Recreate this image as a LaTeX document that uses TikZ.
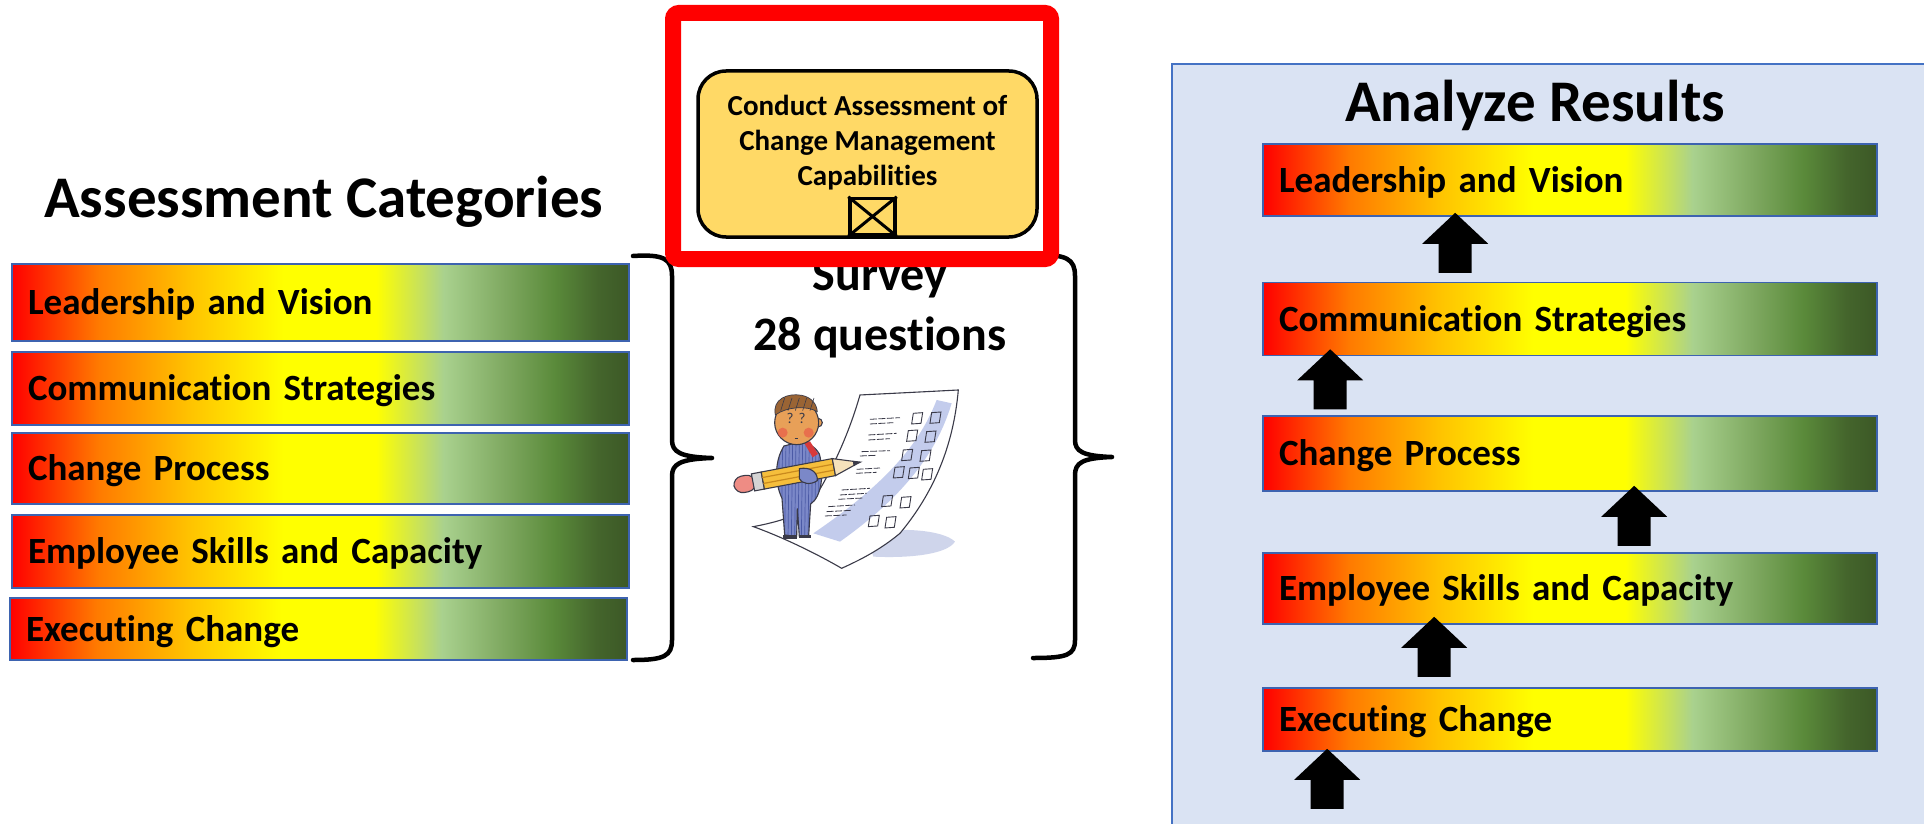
\documentclass[tikz,border=0pt]{standalone}
\usepackage{fontspec}
\setmainfont{Carlito}[Ligatures={TeX,NoCommon}]
\usetikzlibrary{calc}

% gradient colours for the category bars
\definecolor{gRed}{HTML}{FF0000}
\definecolor{gOrange}{HTML}{FF7A00}
\definecolor{gAmber}{HTML}{FFC400}
\definecolor{gYellow}{HTML}{FFFF00}
\definecolor{gLight}{HTML}{A9D18E}
\definecolor{gMid}{HTML}{7EA860}
\definecolor{gGreen}{HTML}{5A8A3A}
\definecolor{gDeep}{HTML}{44652C}
\definecolor{gDark}{HTML}{3C5826}
\definecolor{barline}{HTML}{3D63B0}
\definecolor{panelfill}{HTML}{DAE3F3}
\definecolor{panelline}{HTML}{4472C4}
\definecolor{taskfill}{HTML}{FFD966}
% clip-art colours
\definecolor{inkgray}{HTML}{3A3A48}
\definecolor{washblue}{HTML}{B0BCE6}
\definecolor{shadowblue}{HTML}{A9B4DC}
\definecolor{suitblue}{HTML}{7B88C8}
\definecolor{suitstripe}{HTML}{4B5AA6}
\definecolor{skin}{HTML}{E8A058}
\definecolor{cheek}{HTML}{E8604A}
\definecolor{hairbrown}{HTML}{9A6434}
\definecolor{tiered}{HTML}{D83A3A}
\definecolor{pencilyellow}{HTML}{F5BE3C}
\definecolor{pencilstripe}{HTML}{C98A1E}
\definecolor{eraserpink}{HTML}{EE8C84}
\definecolor{ferrule}{HTML}{D4D4D4}
\definecolor{wood}{HTML}{F6E2BC}

\pgfdeclarehorizontalshading{ragbar}{100bp}{color(0bp)=(gRed); color(25bp)=(gRed);
  color(32bp)=(gOrange); color(39.5bp)=(gAmber); color(47bp)=(gYellow);
  color(54.5bp)=(gYellow); color(60bp)=(gLight); color(65bp)=(gMid);
  color(69bp)=(gGreen); color(72.5bp)=(gDeep); color(75bp)=(gDark); color(100bp)=(gDark)}

\newcommand\barfont{\fontsize{37}{44}\selectfont\bfseries}
\newcommand\titlefont{\fontsize{59}{70}\selectfont\bfseries}

\tikzset{
  bar/.style={draw=barline, line width=1.6pt, shading=ragbar, inner xsep=16pt,
    inner ysep=0pt, align=left, text height=24pt, text depth=0pt, font=\barfont},
  heading/.style={inner sep=0pt, font=\titlefont},
  brace/.style={draw=black, line width=4.5pt, line cap=round, line join=round},
  task/.style={draw=black, line width=3.5pt, fill=taskfill, rounded corners=28pt},
  ink/.style={draw=inkgray, line width=1.1pt},
  pics/uparrow/.style={code={
    \fill[black] (0,0) -- (33,31) -- (16.5,31) -- (16.5,60) -- (-16.5,60)
      -- (-16.5,31) -- (-33,31) -- cycle;}}
}

\begin{document}
\begin{tikzpicture}[x=1pt, y=-1pt]
\useasboundingbox (0,0) rectangle (1924,824);
\clip (0,0) rectangle (1924,824);
\fill[white] (0,0) rectangle (1924,824);

% results panel (runs off the right and bottom edges)
\draw[panelline, fill=panelfill, line width=2pt] (1172,64) rectangle (1950,850);

% headings
\node[heading, anchor=base west] (cattitle) at (44,217) {Assessment Categories};
\node[heading, anchor=base west] (restitle) at (1345,122) {Analyze Results};

% assessment categories
\node[bar, minimum height=77pt, text width=585pt] (c1) at (320.5,302.5) {Leadership and Vision};
\node[bar, minimum height=73pt, text width=585pt] (c2) at (320.5,388.5) {Communication Strategies};
\node[bar, minimum height=71pt, text width=585pt] (c3) at (320.5,468.5) {Change Process};
\node[bar, minimum height=73pt, text width=585pt] (c4) at (320.5,551.5) {Employee Skills and Capacity};
\node[bar, minimum height=62pt, text width=585pt] (c5) at (318.5,629) {Executing Change};

% braces around the survey
\draw[brace] (633,256) .. controls (664,254) and (672,259) .. (672,276) -- (672,440)
  .. controls (672,452) and (680,457) .. (712,458)
  .. controls (680,459) and (672,464) .. (672,476) -- (672,640)
  .. controls (672,656) and (664,660) .. (633,660);
\draw[brace] (1033,255) .. controls (1067,254) and (1075,259) .. (1075,276) -- (1075,440)
  .. controls (1075,451) and (1082,456) .. (1112,457)
  .. controls (1082,458) and (1075,463) .. (1075,475) -- (1075,640)
  .. controls (1075,655) and (1067,658) .. (1033,658);

% survey caption
\node[inner sep=0pt, align=center, anchor=base, font=\fontsize{48}{60}\selectfont\bfseries]
  (survey) at (880,350) {Survey\\28 questions};

% survey clip-art: a man with a giant pencil in front of a questionnaire
\begin{scope}[shift={(660,240)}, x=0.3333pt, y=-0.3333pt]
  % floor shadow
  \fill[shadowblue, opacity=0.55] (620,880) .. controls (720,860) and (850,870) .. (885,905)
    .. controls (860,945) and (740,955) .. (640,950) -- cycle;
  \fill[shadowblue, opacity=0.5] (430,885) .. controls (520,870) and (600,880) .. (660,900)
    -- (600,930) .. controls (540,915) and (480,905) .. (430,900) -- cycle;
  % the sheet
  \filldraw[fill=white, ink] (600,465) .. controls (700,460) and (800,455) .. (895,450)
    .. controls (880,620) and (820,760) .. (720,880)
    .. controls (660,930) and (600,960) .. (545,985)
    .. controls (450,930) and (350,885) .. (280,860)
    .. controls (360,845) and (420,825) .. (450,795)
    .. controls (520,690) and (570,570) .. (600,465) -- cycle;
  % watercolour wash on the sheet
  \fill[washblue, opacity=0.75] (830,480) .. controls (780,610) and (680,730) .. (460,880)
    -- (540,905) .. controls (730,770) and (830,640) .. (875,490) -- cycle;
  % check boxes
  \foreach \bx/\by in {760/520, 815/518, 745/572, 800/575, 730/630, 785/632,
      705/682, 750/684, 790/688, 670/768, 725/772, 630/828, 680/832}
    \draw[ink, line width=0.9pt] (\bx,\by) -- ++(28,-2) -- ++(-5,32) -- ++(-28,2) -- cycle;
  % handwritten questions
  \foreach \ax/\ay/\bx/\by in {630/538/720/533, 630/552/700/548, 625/585/710/580,
      625/600/690/596, 605/635/690/632, 600/648/650/646, 590/688/660/684,
      588/700/650/697, 545/750/630/745, 540/765/620/760, 535/778/610/774,
      505/800/585/795, 500/815/575/811, 495/828/560/825}
    \draw[inkgray, line width=0.8pt, dash pattern=on 7pt off 1.5pt] (\ax,\ay) -- (\bx,\by);
  % suit
  \def\suitpath{(372,618) .. controls (345,660) and (342,725) .. (366,775) -- (374,885)
    -- (410,890) -- (412,805) -- (418,890) -- (446,888) -- (452,792)
    .. controls (484,772) and (494,700) .. (478,642)
    .. controls (466,620) and (444,608) .. (418,606) -- cycle}
  \fill[suitblue] \suitpath;
  \begin{scope}
    \clip \suitpath;
    \foreach \sx in {348,358,...,498}
      \draw[suitstripe, line width=0.7pt] (\sx,600) -- (\sx-4,900);
  \end{scope}
  \draw[ink] \suitpath;
  \fill[inkgray] (368,884) rectangle (412,897);
  \fill[inkgray] (416,884) rectangle (454,895);
  \fill[tiered] (432,608) -- (450,604) -- (474,642) -- (458,652) -- cycle;
  % head
  \filldraw[fill=skin, ink] (474,548) circle (13);
  \filldraw[fill=skin, ink] (410,548) circle (66);
  \fill[cheek, opacity=0.75] (368,578) circle (15);
  \fill[cheek, opacity=0.75] (446,578) circle (15);
  \node[inner sep=0pt, font=\fontsize{15}{15}\selectfont, text=inkgray] (eyel) at (390,536) {?};
  \node[inner sep=0pt, font=\fontsize{15}{15}\selectfont, text=inkgray] (eyer) at (426,536) {?};
  \draw[inkgray, line width=0.9pt] (404,594) -- (415,594);
  \filldraw[fill=hairbrown, ink, line width=0.7pt] (346,525) .. controls (336,478) and (382,458) .. (425,466)
    .. controls (455,472) and (470,492) .. (472,515)
    .. controls (440,496) and (380,500) .. (346,525) -- cycle;
  \foreach \hx in {362,384,406,428,450}
    \draw[inkgray, line width=0.6pt] (\hx,512) .. controls (\hx+5,492) .. (\hx+12,474);
  % pencil held across the body
  \begin{scope}[shift={(222,738)}, rotate=10.7]
    \filldraw[fill=eraserpink, ink, rounded corners=9pt] (0,-25) rectangle (66,25);
    \filldraw[fill=ferrule, ink] (58,-26) rectangle (88,26);
    \filldraw[fill=pencilyellow, ink] (88,-26) rectangle (305,26);
    \draw[pencilstripe, line width=1.2pt] (88,-9) -- (305,-9) (88,9) -- (305,9);
    \filldraw[fill=wood, ink] (305,-26) -- (366,-6) -- (366,6) -- (305,26) -- cycle;
    \filldraw[fill=inkgray, ink] (366,-6) -- (386,0) -- (366,6) -- cycle;
  \end{scope}
  % arm around the pencil
  \filldraw[fill=suitblue, ink] (418,686) .. controls (450,680) and (474,696) .. (472,722)
    .. controls (452,736) and (425,732) .. (418,716) -- cycle;
\end{scope}

% task with its red highlight frame
\draw[gRed, line width=16pt, rounded corners=6pt] (673,13) rectangle (1051,259);
\node[task, minimum width=339pt, minimum height=166pt] (task) at (867.5,154) {};
\node[inner sep=0pt, align=center, anchor=base,
  font=\fontsize{29}{35}\selectfont\bfseries] (tasklabel) at (867.5,185)
  {Conduct Assessment of\\Change Management\\Capabilities};
\node[draw=black, line width=3.5pt, fill=taskfill, minimum width=45pt,
  minimum height=36pt, inner sep=0pt] (marker) at (872.5,216.5) {};
\draw[black, line width=3pt] (marker.north west) -- (marker.south east)
  (marker.north east) -- (marker.south west);

% analysed results
\node[bar, minimum height=72pt, text width=582pt] (r1) at (1570,180) {Leadership and Vision};
\node[bar, minimum height=73pt, text width=582pt] (r2) at (1570,319) {Communication Strategies};
\node[bar, minimum height=75pt, text width=582pt] (r3) at (1570,453.5) {Change Process};
\node[bar, minimum height=71pt, text width=582pt] (r4) at (1570,588.5) {Employee Skills and Capacity};
\node[bar, minimum height=63pt, text width=582pt] (r5) at (1570,719.5) {Executing Change};

% upward arrows between the result bars
\pic at ($(r1.south west)+(193,-4)$) {uparrow};
\pic at ($(r2.south west)+(68,-7)$) {uparrow};
\pic at ($(r3.south west)+(372,-6)$) {uparrow};
\pic at ($(r4.south west)+(172,-8)$) {uparrow};
\pic at ($(r5.south west)+(65,-3)$) {uparrow};
\end{tikzpicture}
\end{document}
